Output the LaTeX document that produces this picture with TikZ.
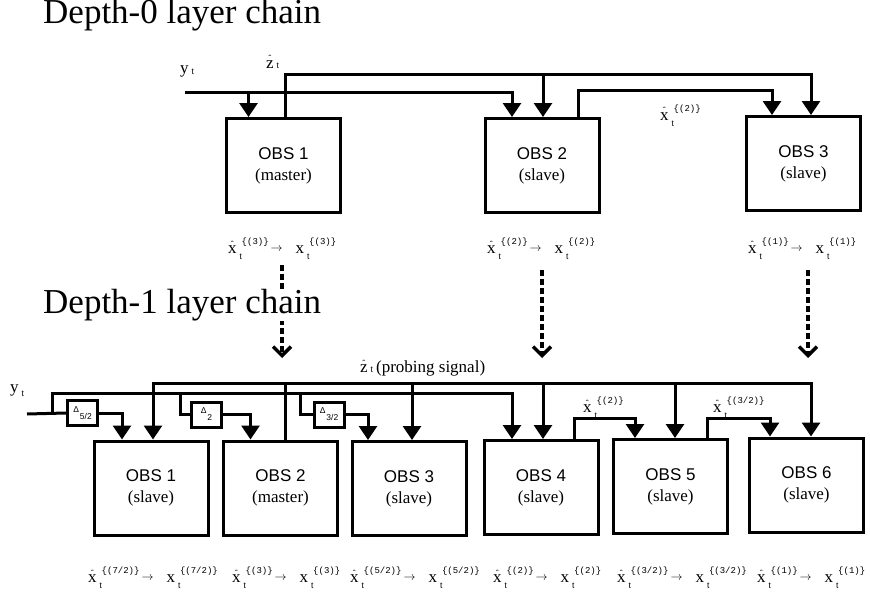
\documentclass[tikz,border=0pt]{standalone}
\usepackage{fontspec}
\setmainfont{Liberation Serif}
\setsansfont{Liberation Sans}
\setmonofont{Liberation Mono}
\usetikzlibrary{calc,arrows.meta}

\newcommand{\tsz}{\fontsize{8.5}{9}\selectfont}
\newcommand{\hatted}[1]{{\ooalign{#1\cr\hidewidth\raisebox{6pt}{\fontsize{9}{9}\selectfont ˆ}\hidewidth\cr}}}
\newcommand{\idx}[2]{#1\kern3pt\rlap{\raisebox{-6pt}{\sffamily\tsz t}}\kern2pt\raisebox{9pt}{\ttfamily\fontsize{9}{9}\selectfont\{(#2)\}}}
\newcommand{\subt}[2]{#1\kern3pt\raisebox{#2}{\sffamily\tsz t}}
\newcommand{\est}[1]{\idx{\hatted{x}}{#1}\kern2pt\raisebox{1.5pt}{\fontsize{13}{13}\selectfont$\rightarrow$}\kern13pt\idx{x}{#1}}
\newcommand{\dl}[1]{\raisebox{2pt}{\sffamily\tsz Δ}\kern1pt\raisebox{-5pt}{\sffamily\tsz #1}}

\tikzset{
  obs/.style={draw, line width=3pt, minimum width=114pt, minimum height=94pt,
    align=center, inner sep=0pt, font=\fontsize{17}{21}\selectfont},
  dly/.style={draw, line width=3pt, minimum width=30pt, minimum height=25pt, inner sep=0pt},
  sig/.style={line width=3pt, -{Triangle[width=18pt,length=14pt]}},
  wire/.style={line width=3pt},
  probe/.style={line width=3.5pt, dash pattern=on 6pt off 3pt,
    -{Straight Barb[width=18pt,length=9pt]}},
  lbl/.style={inner sep=0pt, anchor=base west, font=\fontsize{17}{20}\selectfont},
  heading/.style={inner sep=0pt, anchor=base west, font=\fontsize{35}{40}\selectfont},
}

\begin{document}
\begin{tikzpicture}[x=1pt,y=-1pt]
  \useasboundingbox (0,0) rectangle (870,602);

  % depth-0 chain
  \node[heading] (head0) at (43,24) {Depth-0 layer chain};
  \node[obs] (obs1) at (283.5,165.5) {\textsf{OBS 1}\\(master)};
  \node[obs] (obs2) at (542,165.5) {\textsf{OBS 2}\\(slave)};
  \node[obs] (obs3) at (803.5,163.5) {\textsf{OBS 3}\\(slave)};

  \coordinate (yin0) at (185,92);
  \coordinate (zlev0) at (0,75);
  \coordinate (xlev0) at (0,90);
  \coordinate (p1y) at ($(obs1.north)+(-35,0)$);
  \coordinate (p1z) at ($(obs1.north)+(1.5,0)$);
  \coordinate (p2y) at ($(obs2.north)+(-30,0)$);
  \coordinate (p2z) at ($(obs2.north)+(1,0)$);
  \coordinate (p2x) at ($(obs2.north)+(36,0)$);
  \coordinate (p3x) at ($(obs3.north)+(-31.5,0)$);
  \coordinate (p3z) at ($(obs3.north)+(7.5,0)$);

  \draw[sig] (yin0) -| (p2y);
  \draw[sig] (yin0 -| p1y) -- (p1y);
  \draw[sig] (p1z) |- (zlev0 -| p3z) -- (p3z);
  \draw[sig] (zlev0 -| p2z) -- (p2z);
  \draw[sig] (p2x) |- (xlev0 -| p3x) -- (p3x);

  \node[lbl] (ylab0) at (180,74) {\subt{y}{-1pt}};
  \node[lbl] (zlab0) at (266,68) {\subt{\hatted{z}}{0pt}};
  \node[lbl] (xlab0) at (660,120) {\idx{\hatted{x}}{2}};

  \node[lbl] (est1) at (228,253) {\est{3}};
  \node[lbl] (est2) at (487,253) {\est{2}};
  \node[lbl] (est3) at (748,253) {\est{1}};

  % hand-over to depth-1
  \coordinate (s1) at (282,265);
  \coordinate (s2) at (542,270);
  \coordinate (s3) at (808,270);
  \coordinate (e1) at (282,358);
  \coordinate (e2) at (542,358);
  \coordinate (e3) at (808,358);
  \draw[probe] (s1) -- (e1);
  \draw[probe] (s2) -- (e2);
  \draw[probe] (s3) -- (e3);

  % depth-1 chain
  \node[heading, fill=white] (head1) at (43,313) {Depth-1 layer chain};
  \node[obs] (b1) at (151,488) {\textsf{OBS 1}\\(slave)};
  \node[obs] (b2) at (280.5,488) {\textsf{OBS 2}\\(master)};
  \node[obs] (b3) at (409,488.5) {\textsf{OBS 3}\\(slave)};
  \node[obs] (b4) at (541,487.5) {\textsf{OBS 4}\\(slave)};
  \node[obs] (b5) at (670.5,486.5) {\textsf{OBS 5}\\(slave)};
  \node[obs] (b6) at (806.5,485) {\textsf{OBS 6}\\(slave)};

  \node[dly] (d52) at (82.5,413) {\dl{5/2}};
  \node[dly] (d2) at (206.5,414.5) {\dl{2}};
  \node[dly] (d32) at (329,414.5) {\dl{3/2}};

  \coordinate (yin1) at (27,414);
  \coordinate (t1) at (52,414);
  \coordinate (t2) at (180,393);
  \coordinate (t3) at (300,393);
  \coordinate (zlev1) at (0,383);
  \coordinate (ylev1) at (0,393);
  \coordinate (xlev1) at (0,418);
  \coordinate (q1y) at ($(b1.north)+(-29,0)$);
  \coordinate (q1z) at ($(b1.north)+(2,0)$);
  \coordinate (q2y) at ($(b2.north)+(-30,0)$);
  \coordinate (q2z) at ($(b2.north)+(4.5,0)$);
  \coordinate (q3y) at ($(b3.north)+(-41,0)$);
  \coordinate (q3z) at ($(b3.north)+(3,0)$);
  \coordinate (q4y) at ($(b4.north)+(-29,0)$);
  \coordinate (q4z) at ($(b4.north)+(2,0)$);
  \coordinate (q4x) at ($(b4.north)+(33,0)$);
  \coordinate (q5x) at ($(b5.north)+(-35.5,0)$);
  \coordinate (q5z) at ($(b5.north)+(4.5,0)$);
  \coordinate (q5o) at ($(b5.north)+(36.5,0)$);
  \coordinate (q6x) at ($(b6.north)+(-36.5,0)$);
  \coordinate (q6z) at ($(b6.north)+(4.5,0)$);

  % probing signal from the master
  \draw[sig] (q2z) |- (zlev1 -| q1z) -- (q1z);
  \draw[sig] (q2z) |- (zlev1 -| q6z) -- (q6z);
  \foreach \p in {q3z,q4z,q5z}
    \draw[sig] (zlev1 -| \p) -- (\p);

  % measurement with delays
  \draw[wire] (yin1) -- (d52.west);
  \draw[sig] (d52.east) -| (q1y);
  \draw[sig] (t1) |- (ylev1 -| q4y) -- (q4y);
  \draw[wire] (t2) |- (d2.west);
  \draw[sig] (d2.east) -| (q2y);
  \draw[wire] (t3) |- (d32.west);
  \draw[sig] (d32.east) -| (q3y);

  % estimates handed along
  \draw[sig] (q4x) |- (xlev1 -| q5x) -- (q5x);
  \draw[sig] (q5o) |- (xlev1 -| q6x) -- (q6x);

  \node[lbl] (ylab1) at (10,392) {\subt{y}{-4pt}};
  \node[lbl] (zlab1) at (360,372) {\subt{\hatted{z}}{0pt}\kern3pt(probing signal)};
  \node[lbl] (xlab1) at (583,412) {\idx{\hatted{x}}{2}};
  \node[lbl] (xlab2) at (713,412) {\idx{\hatted{x}}{3/2}};

  \node[lbl] (est4) at (88,582) {\est{7/2}};
  \node[lbl] (est5) at (232,582) {\est{3}};
  \node[lbl] (est6) at (350,582) {\est{5/2}};
  \node[lbl] (est7) at (493,582) {\est{2}};
  \node[lbl] (est8) at (617,582) {\est{3/2}};
  \node[lbl] (est9) at (757,582) {\est{1}};
\end{tikzpicture}
\end{document}
